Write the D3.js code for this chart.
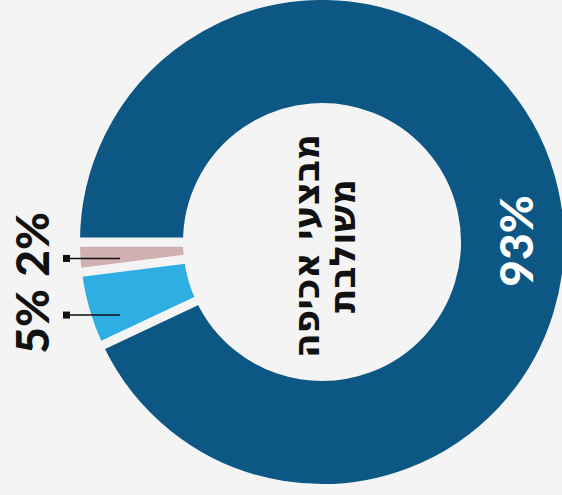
<!DOCTYPE html>
<html>
<head>
<meta charset="utf-8">
<script src="https://cdn.jsdelivr.net/npm/d3@7"></script>
<style>
  body { margin: 0; background: #f4f4f4; }
  svg { display: block; }
</style>
</head>
<body>
<div id="chart"></div>
<script>
// data
var categories = ["2%", "5%", "93%"];
var values = [2, 5, 93];
var colors = ["#d1b0b1", "#2eaee3", "#0c5783"];
var centerLines = ["מבצעי אכיפה", "משולבת"];

var width = 562, height = 495;
var cx = 322, cy = 242;
var outerR = 242, innerR = 139;
var gap = 9;
var bg = "#f4f4f4";

const svg = d3.select("#chart").append("svg")
	.attr("width", width)
	.attr("height", height);

svg.append("rect")
	.attr("width", width)
	.attr("height", height)
	.style("fill", bg);

// pie runs counter clockwise starting at 9 o'clock
const pie = d3.pie()
	.sort(null)
	.value(d => d)
	.startAngle(1.5 * Math.PI)
	.endAngle(-0.5 * Math.PI);

// the gaps are a background coloured stroke, so grow the ring by half of it
const arc = d3.arc()
	.innerRadius(innerR - gap / 2)
	.outerRadius(outerR + gap / 2);

const arcs = pie(values);

const g = svg.append("g")
	.attr("transform", "translate(" + cx + "," + cy + ")");

g.selectAll("path.slice")
	.data(arcs)
	.enter().append("path")
	.attr("class", "slice")
	.attr("d", arc)
	.style("fill", (d, i) => colors[i])
	.attr("stroke", bg)
	.attr("stroke-width", gap)
	.attr("stroke-linejoin", "miter");

// big label at 3 o'clock inside the big slice
const bigR = (innerR + outerR) / 2 + 4;
g.append("text")
	.attr("transform", "translate(" + bigR + ",-1) rotate(-90)")
	.attr("text-anchor", "middle")
	.attr("dy", "0.35em")
	.style("font-family", "Lato, sans-serif")
	.style("font-weight", 900)
	.style("font-size", "46px")
	.style("fill", "#ffffff")
	.text(categories[2]);

// small labels on the left with leader lines
const leaderR = 262;
const labelGap = 77;
var small = arcs.slice(0, 2).map(function(d, i) {
	const m = (d.startAngle + d.endAngle) / 2;
	return { i: i, y: -leaderR * Math.cos(m) };
});
const meanY = d3.mean(small, d => d.y);
small.forEach(function(d, k) {
	d.ly = meanY + (k - 0.5) * labelGap - 4;
});

const lg = g.selectAll("g.small")
	.data(small)
	.enter().append("g")
	.attr("class", "small");

lg.append("line")
	.attr("x1", -256)
	.attr("x2", -202)
	.attr("y1", d => d.y)
	.attr("y2", d => d.y)
	.attr("stroke", "#111")
	.attr("stroke-width", 1.5);

lg.append("rect")
	.attr("x", -259)
	.attr("y", d => d.y - 3.5)
	.attr("width", 7)
	.attr("height", 7)
	.style("fill", "#111");

lg.append("text")
	.attr("transform", d => "translate(-289," + d.ly + ") rotate(-90)")
	.attr("text-anchor", "middle")
	.attr("dy", "0.35em")
	.style("font-family", "Lato, sans-serif")
	.style("font-weight", 900)
	.style("font-size", "46px")
	.style("fill", "#111")
	.text(d => categories[d.i]);

// centre title, two lines turned on their side
g.selectAll("text.title")
	.data(centerLines)
	.enter().append("text")
	.attr("class", "title")
	.attr("transform", (d, i) => "translate(" + (-16 + i * 36) + ",4) rotate(-90)")
	.attr("text-anchor", "middle")
	.attr("dy", "0.35em")
	.attr("direction", "rtl")
	.style("font-family", "'DejaVu Sans', sans-serif")
	.style("font-weight", 700)
	.style("font-size", "36px")
	.style("fill", "#111")
	.text(d => d);
</script>
</body>
</html>
